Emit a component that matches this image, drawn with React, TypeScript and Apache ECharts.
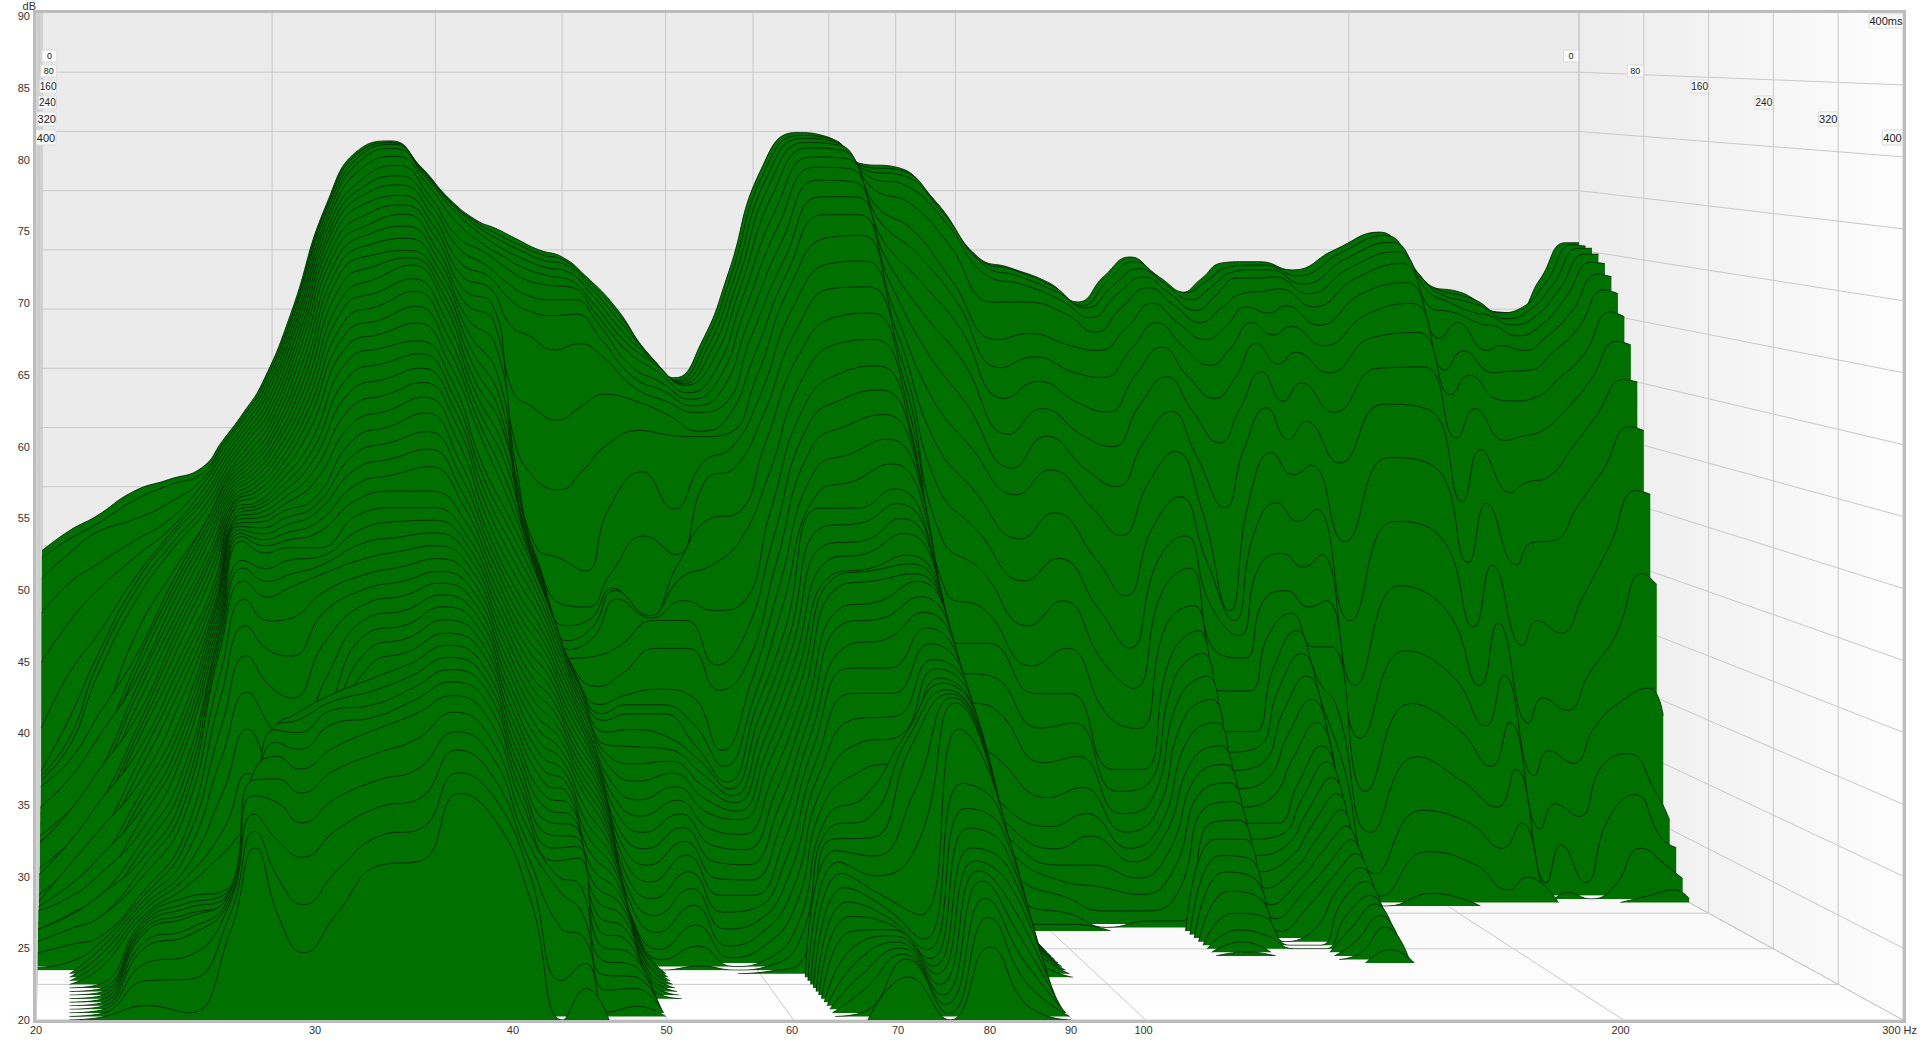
import React, { useEffect, useRef } from "react";
import * as echarts from "echarts";

// Frequencies (Hz) of the decay columns below
const freqs = [20,21,22,23.5,25,26.5,27.5,28.5,29.5,31,33,35,37,39,41,43,44.5,46,48,50,52,55,58,61,64,67,71,75.5,80,84.5,90,96,104,110,118,124,130,136,142,149,154,160,166,171,181,195,211,223,230,242,248,258,268,280,293,300];

// Level in dB at each frequency for slices 0, 8, 16 ... 400 ms. A column ends where its level has left the floor.
const at20 = [44.6,44.2,42.7,40,36.1,30.9,27.6,27.5,27.4,26,27.4,25.5,25,26.5,24.5,24.3,24,24.7,23,22.8,22.6,23.3,22,21.8,22,21.7,21.6,22.4,21.5,22.6,21.4,21.3,22,21.2,21.6,21,20.2];
const at21 = [46.3,45.8,44.8,42.5,39.5,35.5,32,30.6,30.2,28,29.5,27.5,27,28.8,26.5,26.2,26,27.2,25,24.8,24.6,25.8,24,23.8,24.8,23.2,23,24,22.8,23.6,22.6,22.4,23,22.2,22.5,21.6,20.6];
const at22 = [47.5,47,46.5,44,42,38.5,37,36.5,35.8,31.5,33,30.5,30.2,32,29.3,29,28.8,30.3,27.8,27.5,27.3,28.8,26.3,26.1,27.4,25.2,25,26.1,24.4,25.3,23.9,23.6,24.5,23.1,23.4,22.2,22,21.8,21.6,21.4,21.2,20.3,20.2,20.2,20.2,20.2,20.2,20.2,20.2,20.2,20.2];
const at23_5 = [49.6,49,47.6,46,44.8,43.3,43,42.6,42,39.5,38,37.6,37.2,36.8,36.4,36,35.4,34.8,34.2,33.9,33.6,33,32.4,31.8,31.2,30.5,30.1,29.7,29.2,28.6,28,27.6,27.2,26.8,26.4,25.5,25.4,25.3,25.2,25.1,25,25,25,25,25,25,24.6,24.4,23.5,22.5,21];
const at25 = [50.6,50.3,49,47.8,47.2,47,46.9,46.5,46.2,44.5,44,43.7,43.4,43,42.5,42,41.6,41.2,40.8,40.2,39.5,39,38.4,37.8,37,36,35.5,35,34.5,34,33,32.4,31.8,31.2,30.6,29.5,29,28.4,27.8,27.4,27,26.5,26.3,26.2,26,26,25.4,25.2,24,22.6,20.5];
const at26_5 = [51.6,51.3,51,50.8,50.5,50.2,50,49.7,49.4,48.8,49,48.8,48.6,48.3,48,47.5,47.2,47,46.6,46.2,45.5,45.2,44.9,44.6,44.5,44.5,44.3,44.1,43.9,43.7,43.5,43.4,43.2,43,41.5,40,38,36,33.5,31,29.5,27,27,27,27,27.5,27.5,27.5,27.5,27,26];
const at27_5 = [53.9,53.8,53.7,53.5,53.3,53.1,52.9,52.7,52.5,52.4,52.3,52.2,52.1,52,51.9,51.8,51.7,51.6,51.6,51.5,51.5,51.4,51.3,51.3,51.2,51.1,51,50.9,50.8,50.7,50.5,49.2,48.8,48,46.8,45,43,40.5,38,35,31,31,31.5,32,33,36,35.9,35,33.9,32.9,32];
const at28_5 = [56.2,56.1,56,55.8,55.6,55.4,55.2,55,54.7,54.4,54.1,53.9,53.7,53.5,53.3,53.1,52.9,52.7,52.5,52.3,52,51.9,51.8,51.6,51.4,51.2,50.9,50.6,50.3,50,49.6,48.6,47.8,46.8,45.2,43.2,40.8,38,35,32.2,30,38.5,39,38.9,38.2,37.4,36,34.5,32,29.5,27];
const at29_5 = [58.8,58.7,58.5,58.3,58.1,57.8,57.5,57.2,56.9,56.6,56.3,56,55.8,55.5,55.3,55,54.7,54.4,54.1,53.8,53.5,53.2,52.9,52.6,52.3,52,51.6,51.2,50.8,50.4,50,49.2,48.3,47.5,45.4,42.8,39.9,36,33,31,30,39.7,39.4,38.7,37.7,36.5,35,33.1,30.9,27.8,24.7];
const at31 = [64.6,64.5,64.4,64.2,64,63.8,63.5,63.2,62.9,62.5,62,61.5,61,60.5,60,59.5,59,58.5,58,57.3,56.5,55.9,55.3,54.7,54,53,52.6,52.2,51.6,51,50,49.5,49,48.5,47.3,46,44,41.5,39,37.5,37,41,40.7,40.3,39.5,38,36.6,34.8,32.8,30.2,27.5];
const at33 = [73.8,73.8,73.7,73.5,73.3,73,72.7,72.4,72,71.5,71,70.4,69.8,69.2,68.4,67.5,66.7,65.8,64.9,64,63,61.9,60.8,59.7,58.6,57.5,56.5,55.5,54.5,53.5,52.5,51.5,50.6,49.6,48.6,47.7,46.8,45.9,45,44,43,42.2,41.5,40.7,40,39.3,37.8,36.1,34.4,32.6,30.8];
const at35 = [78.5,78.4,78.2,77.9,77.3,76.5,75.9,75.3,74.6,73.8,73,72.3,71.5,70.7,69.9,69,68,67,66,65,64,62.9,61.8,60.7,59.6,58.5,57.4,56.3,55.2,54.1,53,52.1,51.1,50.2,49.2,48.3,47.4,46.5,45.6,44.8,44,43.3,42.6,41.9,41.2,40.4,38.8,36.9,35,33.1,31.1];
const at37 = [79.2,79.1,79,78.7,78.1,77.4,76.6,75.9,75.1,74.4,73.7,72.8,71.9,71,70.5,70,69,68.1,67,65.8,64.5,63.6,62.6,61.6,60.6,59.5,58.2,57,55.8,54.1,53,52.2,51.4,50.6,49.8,49,48.3,47.6,46.9,46.1,45.3,44.6,43.9,43.2,42.5,41.7,40.7,39.5,38.4,37,35.8];
const at39 = [77,76.8,76.6,76.3,75.8,75,74.3,73.5,72.7,71.9,71,70.2,69.4,68.6,67.8,67,65.9,64.8,63.7,62.6,61.5,60.5,59.5,58.5,57.3,56,54.9,53.8,52.9,51.9,51,50.3,49.6,48.9,48.2,47.5,46.8,46.1,45.4,44.7,44,43.2,42.5,41.8,41,40,38.9,37.8,36.5,35.2,33.9];
const at41 = [74.3,74.1,73.9,73.5,72.7,71.5,70.6,69.5,68.5,67.5,66.5,65.4,64.3,63.2,62.1,61,60,59,58,57,55,54,53,52,51,50,49.2,48.4,47.6,46.8,46,45.2,44.4,43.6,42.8,42,41.2,40.4,39.6,38.8,38,37.2,36.4,35.6,34.8,34,33,32,31,30,28.5];
const at43 = [72.5,72.3,72,71.5,70.8,70.2,69.2,68.4,67.5,66.3,65,63.2,61,59.4,58,57,55.6,54.4,53,51.8,50.5,49.5,48.5,47.5,46.5,45.5,44.7,43.9,43.1,42.3,41.5,40.7,39.9,39.1,38.3,37.5,36.7,35.9,35.1,34.3,33.5,32.8,32.1,31.4,30.7,30,29.2,28.4,26,22.5];
const at44_5 = [71.8,71.4,71,70.4,69.8,69,67.8,66.6,64.5,59.3,55.5,53.5,52,51,50,49.4,49,48.5,48,47.5,47,46.2,45.4,44.6,43.8,43,42.3,41.6,40.9,40.2,39.5,38.8,38.1,37.4,36.7,36,35.4,34.8,34.2,33.6,33,32.4,31.9,31.3,30.8,30.2,28.5,26.8,25.3,23.7,22.2];
const at46 = [71,70.6,70.2,69.6,68.9,68,66.8,65.6,63.6,58,52.4,47,46,45.6,45.2,44.8,44.4,44,43.6,43.3,43,42.3,41.6,40.9,40.2,39.5,38.8,38.1,37.4,36.7,36,35.4,34.8,34.2,33.6,33,32.1,31.2,30.3,29.4,28.5,27.6,26.7,25.8,24.9,24,23.2,22.4,21.6,20.3];
const at48 = [70,69.7,69.3,68.8,68.2,67.5,66.4,65.2,62.5,56.9,51.4,46,42.5,41,40,39.5,39,38.5,38.2,38,37.7,37.2,36.7,36.2,35.6,35,34.5,34,33.5,33,32.5,31.9,31.3,30.7,30.1,29.5,28.9,28.3,27.7,27.1,26.5,25.9,25.3,24.7,24.1,23.5,22.9,22.3,21.7,20.7];
const at50 = [69.4,69.2,68.9,68.4,67.8,67.3,66.4,65.3,63,58,53,45,42.3,41.5,41,40.5,39.2,37,35.8,35.3,35,34.3,33.5,32.8,32,31,30.1,29.2,28.2,27.4,26.5,25.6,24.7,23.9,23,22.7,22.5,22.2,22,21.7,21.5,21.2,21,20.8,20.5];
const at52 = [67.9,67.6,67.2,66.6,65.9,65.2,64.5,63.4,62,59,55,50,45,44,44,43.5,40,38,36.5,36,35.5,34.5,33.4,32.3,31.2,30,29,28,27,26,25,24,23,22,21,20.5];
const at55 = [65.1,64.7,64.1,63.4,62.7,62,61,60.2,59.4,58.4,56.2,53,48,41.5,42,42,42,40,37,36,35.5,34,33.2,32.5,31.8,31,30.2,29.4,28.6,27.8,27,26,25,24,22.8,21.5,20.3];
const at58 = [61.4,61.3,61.2,61,60.8,60.3,59.6,59,58.3,57.3,55.8,50,46.5,46,45,43.4,42,40,36.5,34.5,33,32.2,31.4,30.6,29.8,29,28,27,26,25,24,23,22,21,20.4];
const at61 = [59.2,59.1,59.1,59.1,59.1,58.6,58.2,57.8,57.4,56,55.7,53.8,52.5,49.5,46,42.6,38.5,36.7,32.2,31.2,30.2,29.9,29.6,29.3,28.9,28.5,27.6,26.7,25.8,24.9,24,23.3,22.6,21.9,21.2,20.5,20.3,20.2];
const at64 = [62.3,62.2,62,61.7,61.2,60.5,59.8,59,58,57,56,55,53.5,50,48,43.2,41,39,37.5,36.5,36,35.4,34.8,34.2,33.6,33,32,31,30,29,28,27,26,25,24,23,22.2,21];
const at67 = [68,67.9,67.7,67.4,67,66.4,65.6,64.6,63.5,62,60.5,59,57.5,55.5,53,50.5,48.5,46.7,45,43.5,42,41.3,40.6,39.9,39.2,38.5,37.8,37.1,36.4,35.7,35,34.2,33.4,32.6,31.8,31,30.4,29.8,29.2,28.6,28,27.2,26.4,25.6,24.8,24,23.2,22.4,21.6,20.4];
const at71 = [76.8,76.6,76.3,75.8,75,73.8,72.6,71.3,70,69,68,66.4,64.6,62.8,60.9,59,57.5,55.8,54.1,52.5,51.5,50.2,49,48,47,47,46.4,45,44,42.5,41,39.3,37.6,36,34.2,32.5,31.1,29.9,28.8,27.6,26.5,25.9,25.4,25.1,24.9,24.7,24.5,24.3,24.1,24,23];
const at75_5 = [79.9,79.7,79.5,79.2,78.8,78.1,77.3,76.3,75,73.6,71.8,69.8,67.9,65.7,63.7,61.5,59.6,57.6,55.5,53.5,51.5,50.5,49.3,48.5,47.5,47.5,46.9,45.5,44.4,43,41,39.3,37.8,36.5,35.3,37,37,36.6,33.5,29.9,25,23.5,23,22.6,22.3,22,21.5,21,20.6,20.2];
const at80 = [79.5,79.4,79.2,79,78.6,78,77.2,76.2,75,73.6,72,70,68,66,64,62,60.2,58.4,56.6,54.8,53,52,51,50,48.5,48,47.4,47,46,45,44,43,42,41.5,41,40.8,40.5,40.4,40.3,40.1,38.4,34.7,33.1,31.9,30.7,30,29.5,29,28,26.9,25.1];
const at84_5 = [77.3,77.1,76.8,76.3,75.4,74,72.8,71.3,69.8,68,66,64.2,62.4,60.6,58.8,57,55.6,54.2,52.8,51.2,49.5,48.5,47.5,46.5,45.5,44.5,43.8,43.1,42.4,41.7,41,40.4,39.8,39.2,38.6,38,37.2,36.4,35.6,34.8,34,32.8,31.6,30.4,29.2,28,26.6,25.2,23.8,22.4,21];
const at90 = [77,76.8,76.4,75.6,74.2,72,70.2,68,65.4,62.4,59,55.5,51.9,48,44,40,38,36.2,34.5,32.7,31,30.2,29.4,28.6,27.8,27,26.6,26.2,25.8,25.4,25,24.7,24.4,24.1,23.8,23.5,23.2,22.8,22];
const at96 = [74.4,74.1,73.6,72.8,71,68,66.5,64.4,61.7,58.3,55,51.6,48.5,45.5,42.5,40,37.6,35.2,31.5,28.2,27,26,25,23.6,22,20.5];
const at104 = [69.4,69.2,68.8,68,66,63,60.8,58.4,55.6,53,51,47.6,44.4,41,38,36,33.5,31,28.5,26.5,25,24,23,22,21,20.5];
const at110 = [68.5,68.4,68,67.4,66,63.5,61.7,59.8,57.7,55.6,53,49.7,46.2,43,39.4,36,33.9,31.5,29.3,27.5,26,24,22.6,21];
const at118 = [67.2,67,66.6,66,65,62.5,60.4,58,55.5,52.8,50,46,42,38,34,30,28.5,27,25.8,24.8,24,23,22,21,20.5];
const at124 = [65.6,65.4,65.3,64.6,63.5,62.1,60,57.3,54.6,51.5,47.7,43,39,36,33,30,29,28,27.2,26.5,26,25,23.8,22.3,20.5];
const at130 = [67.8,67.6,67.2,66.6,65.6,64,62.3,60.3,58,55.2,52,48.6,46,43.7,41.3,39,37.6,36.2,34.8,33.4,32,31,30,29,28,27,26,25,23.8,22.4,21.4,20.8,20.3];
const at136 = [69.4,69.1,68.6,68,67.2,66,64.5,62.6,60.3,57.6,54.5,51,48,45.6,42.8,41,39.4,37.8,36.2,34.6,33,31.8,30.6,29.4,28.2,27,25.8,24.6,23.4,22.2,21];
const at142 = [68,67.8,67.4,66.7,65.8,64.4,62.6,60.3,57.6,54,50,46,42.5,39,36,33,31.6,30.4,29.2,28,27,26,25,24,23,22,21.2,20.5];
const at149 = [66.4,66.5,66,65.2,64.3,63,61,58.4,54.9,49.8,41.6,41,40,38.4,36,33,32,31,30,28.8,27,26.4,25.8,25.2,24.6,24,23.4,22.6,21];
const at154 = [67.5,67.4,67,66.4,65.4,64,62.3,60,57.6,54.6,50.5,48,45.5,43,40.5,38,36.5,35,33.4,31.8,30,29.2,28.4,27.6,26.8,26,25.2,24.5,23.8,23.2,22.5,21.8,21.1,20.5];
const at160 = [68.9,68.6,68.3,67.9,66.7,65.7,64.5,62.9,60.7,57.9,54.4,50.5,46.6,43.8,42.2,41,39.4,37.8,36.2,34.6,33,32,31,30,29,28,27.2,26.4,25.6,24.8,24,23.6,23,22.4,21];
const at166 = [69,68.8,68.5,67.9,66.9,65.2,63.5,61.2,58.3,55.3,52.6,49,45.5,42.5,39.5,37,35,33,31,29.4,28,26.5,25,23,20.5];
const at171 = [69,68.8,68.5,68,67.1,65.8,64.2,62.2,59.8,56.8,53.4,50,46.5,43,39.5,35,31,26,21];
const at181 = [68.3,67.9,67.3,66.6,65.6,64.2,62.6,60.5,57.4,53.4,47.2,41,36,32,28,25,22,20.5];
const at195 = [70,69.8,69.4,68.8,68,66.8,65.2,63.4,61,58.2,54,49,44,39,35,31,27,24,21];
const at211 = [71.5,71.3,70.8,70.1,69.2,67.7,66.1,63.8,61.1,57.7,53.2,47.7,42,37,33,29,26,23];
const at223 = [68.5,68.3,67.8,66.8,65.4,63.1,60.6,58.7,55.3,50.3,45.5,40.5,36,33,30,27,24,21];
const at230 = [67,66.9,66.5,66,65.2,64.4,62.2,60.3,57.7,54.5,50.3,45.5,41,37,33.5,30,26,22];
const at242 = [66.5,66.2,65.8,65,64.2,62.1,60.4,58.3,55.1,51,45.3,39,33,29,25,21];
const at248 = [66,65.8,65.4,64.8,64,62.5,60.5,58.2,55.4,51.8,47.1,41,35,31,27,24,20.5];
const at258 = [64.8,64.8,64.4,64,63.2,62.1,60.6,58.5,55.9,52.3,47.3,40,34,30,26,21];
const at268 = [64.7,65.2,65,64.6,64,63.2,62,60,57.5,54.5,50,43,37,33,30,26,21];
const at280 = [67.5,67.4,67.2,66.9,66.3,65.3,64,62,60,57.3,53,47,40,35,31,28,24,20.5];
const at293 = [70.6,70.5,70.3,69.9,69.3,68.4,67.2,65.5,63.2,60.2,56.5,51.5,45,36,28,24.5,22.5,21];
const at300 = [70.6,70.4,70.3,69.9,69.2,68.2,66.9,65.1,62.9,60,56.2,51.2,44.1,33.8,25.7,23.8,21.6,20.3];

const columns = [at20,at21,at22,at23_5,at25,at26_5,at27_5,at28_5,at29_5,at31,at33,at35,at37,at39,at41,at43,at44_5,at46,at48,at50,at52,at55,at58,at61,at64,at67,at71,at75_5,at80,at84_5,at90,at96,at104,at110,at118,at124,at130,at136,at142,at149,at154,at160,at166,at171,at181,at195,at211,at223,at230,at242,at248,at258,at268,at280,at293,at300];

const sliceCount = 51;
const floorDb = 20;
const freqTicks = [20,30,40,50,60,70,80,90,100,200,300];
const dbTicks = [25,30,35,40,45,50,55,60,65,70,75,80,85];
const timeTicks = [0,80,160,240,320,400];

// View geometry of the waterfall box
const TOP = 13;
const leftAt = (t: number) => 42 - 6 * t;
const rightAt = (t: number) => 1579 + 324 * t;
const floorAt = (t: number) => 842 + 178 * t;
const fx = (f: number, t: number) =>
  leftAt(t) + (Math.log(f / 20) / Math.log(15)) * (rightAt(t) - leftAt(t));
const dy = (db: number, t: number) => TOP + ((90 - db) / 70) * (floorAt(t) - TOP);

// One slice: a run below the floor is left out, its first and last points sit on the floor.
function sliceData(k: number) {
  const alive = (j: number) => {
    const v = columns[j]?.[k];
    return v !== undefined && v >= floorDb;
  };
  return freqs.map((f, j) => {
    if (alive(j)) return [f, columns[j][k]];
    if (alive(j - 1) || alive(j + 1)) return [f, floorDb];
    return [f, null];
  });
}

const GRID = "#c9c9c9";
const ln = (x1: number, y1: number, x2: number, y2: number, z = 2) => ({
  type: "line",
  z,
  silent: true,
  shape: { x1, y1, x2, y2 },
  style: { stroke: GRID, lineWidth: 1 },
});

function walls() {
  const els: any[] = [
    {
      type: "rect", z: 0, silent: true,
      shape: { x: 42, y: TOP, width: 1537, height: 829 },
      style: { fill: "#ebebeb" },
    },
    {
      type: "polygon", z: 0, silent: true,
      shape: { points: [[1579, TOP], [1903, TOP], [1903, 1020], [1579, 842]] },
      style: {
        fill: new echarts.graphic.LinearGradient(0, 0, 1, 0, [
          { offset: 0, color: "#ececec" },
          { offset: 1, color: "#fdfdfd" },
        ]),
      },
    },
    {
      type: "polygon", z: 0, silent: true,
      shape: { points: [[42, 842], [1579, 842], [1903, 1020], [36, 1020]] },
      style: {
        fill: new echarts.graphic.LinearGradient(0, 0, 0, 1, [
          { offset: 0, color: "#f4f4f4" },
          { offset: 1, color: "#ffffff" },
        ]),
      },
    },
    {
      type: "polygon", z: 0, silent: true,
      shape: { points: [[36, TOP], [42, TOP], [42, 842], [36, 1020]] },
      style: { fill: "#ececec" },
    },
  ];
  for (const db of dbTicks) {
    els.push(ln(42, dy(db, 0), 1579, dy(db, 0)));
    els.push(ln(1579, dy(db, 0), 1903, dy(db, 1)));
  }
  els.push(ln(1579, 842, 1903, 1020));
  for (const f of freqTicks) {
    els.push(ln(fx(f, 0), TOP, fx(f, 0), 842));
    els.push(ln(fx(f, 0), 842, fx(f, 1), 1020));
  }
  for (const ms of timeTicks) {
    const t = ms / 400;
    els.push(ln(leftAt(t), floorAt(t), rightAt(t), floorAt(t)));
    els.push(ln(rightAt(t), TOP, rightAt(t), floorAt(t)));
    els.push(ln(leftAt(t), TOP, leftAt(t), floorAt(t)));
  }
  return els;
}

function tag(text: string, right: number, y: number, h: number, size: number, w: number) {
  return [
    {
      type: "rect", z: 90, silent: true,
      shape: { x: right - w, y, width: w, height: h },
      style: { fill: "#fafafa", stroke: "#dcdcdc", lineWidth: 1 },
    },
    {
      type: "text", z: 91, silent: true,
      x: right - w / 2, y: y + h / 2,
      style: {
        text, fill: "#222", align: "center", verticalAlign: "middle",
        font: `${size}px "Liberation Sans", Arial, sans-serif`,
      },
    },
  ];
}

function timeTags() {
  const sizes = [9, 9, 10, 10, 11, 11];
  const ys = [50, 65, 80, 96, 112, 130];
  const hs = [12, 12, 13, 13, 14, 15];
  const ws = [15, 16, 17, 18, 19, 20];
  const els: any[] = [];
  timeTicks.forEach((ms, i) => {
    const t = ms / 400;
    els.push(...tag(String(ms), rightAt(t) - 0.5, ys[i], hs[i], sizes[i], ws[i]));
    els.push(...tag(String(ms), leftAt(t) + ws[i], ys[i], hs[i], sizes[i], ws[i]));
  });
  els.push(...tag("400ms", 1903, 14, 14, 11, 34));
  return els;
}

export default function App() {
  const ref = useRef<HTMLDivElement>(null);
  useEffect(() => {
    document.body.style.margin = "0";
    const chart = echarts.init(ref.current!, undefined, { renderer: "svg" });
    const grid: any[] = [];
    const xAxis: any[] = [];
    const yAxis: any[] = [];
    const series: any[] = [];
    const font = { color: "#333", fontSize: 11, fontFamily: '"Liberation Sans", Arial, sans-serif' };
    for (let k = 0; k < sliceCount; k++) {
      const t = k / (sliceCount - 1);
      const front = k === sliceCount - 1;
      grid.push({
        left: leftAt(t),
        top: TOP,
        width: rightAt(t) - leftAt(t),
        height: floorAt(t) - TOP,
        show: false,
      });
      xAxis.push({
        type: "log", logBase: 10, min: 20, max: 300, gridIndex: k, show: front,
        axisLine: { show: false }, axisTick: { show: false }, splitLine: { show: false },
        minorTick: { show: false }, minorSplitLine: { show: false },
        axisLabel: {
          ...font, margin: 4, showMinLabel: true, showMaxLabel: true,
          customValues: freqTicks,
          formatter: (v: number) => (Math.round(v) === 300 ? "300 Hz" : String(Math.round(v))),
        },
      });
      yAxis.push({
        type: "value", min: 20, max: 90, interval: 5, gridIndex: k, show: front,
        name: front ? "dB" : undefined,
        nameLocation: "end", nameGap: 2,
        nameTextStyle: { ...font, align: "right", padding: [0, 0, 0, 0] },
        axisLine: { show: false }, axisTick: { show: false }, splitLine: { show: false },
        axisLabel: { ...font, margin: 6 },
      });
      series.push({
        type: "line",
        name: `${k * 8} ms`,
        xAxisIndex: k,
        yAxisIndex: k,
        z: 10 + k,
        smooth: 0.5,
        showSymbol: false,
        silent: true,
        clip: true,
        connectNulls: false,
        lineStyle: { color: "#042804", width: 0.9 },
        areaStyle: { color: "#007000", opacity: 1, origin: "start" },
        data: sliceData(k),
      });
    }
    const border = {
      type: "rect", z: 95, silent: true,
      shape: { x: 34.5, y: 11.5, width: 1870, height: 1010 },
      style: { fill: "none", stroke: "#bcbcbc", lineWidth: 3 },
    };
    chart.setOption({
      animation: false,
      backgroundColor: "#ffffff",
      grid, xAxis, yAxis, series,
      graphic: { elements: [...walls(), ...timeTags(), border] },
    });
    return () => chart.dispose();
  }, []);
  return <div ref={ref} style={{ position: "fixed", left: 0, top: 0, width: 1920, height: 1040 }} />;
}
